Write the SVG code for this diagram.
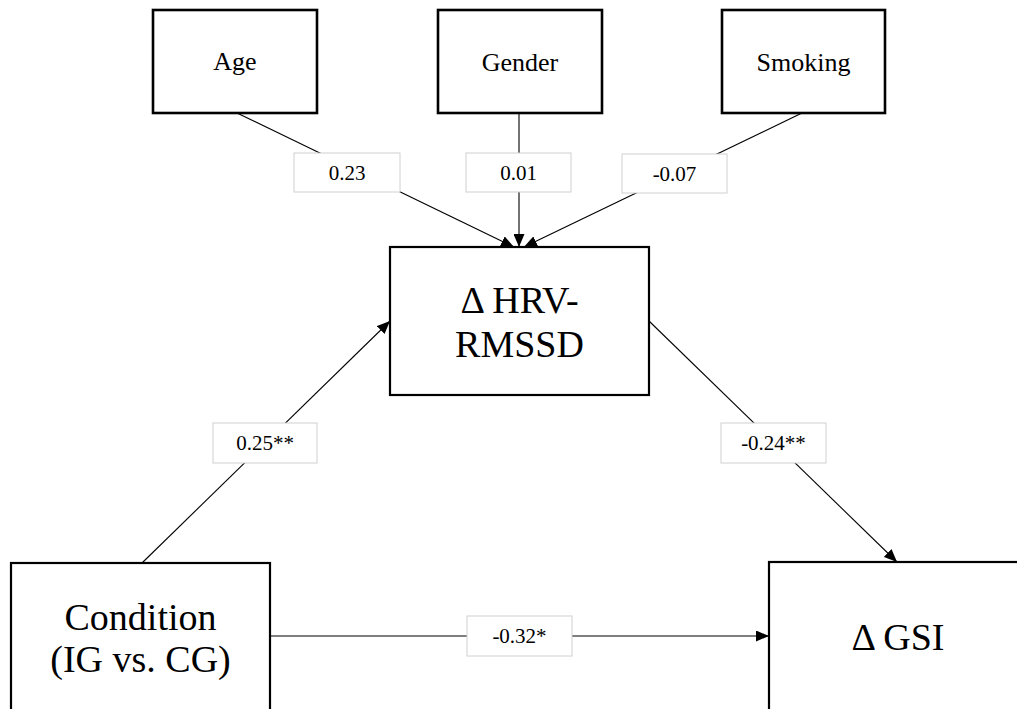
<svg xmlns="http://www.w3.org/2000/svg" width="1017" height="709" viewBox="0 0 1017 709">
  <style>
    .box { fill: #ffffff; stroke: #000000; }
    .small { stroke-width: 2.6; }
    .big { stroke-width: 2.2; }
    .lbl { fill: #ffffff; stroke: #d0d0d0; stroke-width: 1; }
    .edge { stroke: #000000; stroke-width: 1.1; fill: none; }
    text { fill: #000000; text-anchor: middle; }
    .t1 { font-size: 26px; }
    .t2 { font-size: 21px; }
    .t3 { font-size: 38px; }
  </style>
  <defs>
    <marker id="arrow" markerUnits="userSpaceOnUse" markerWidth="13" markerHeight="11" viewBox="0 0 13 11" refX="13" refY="5.5" orient="auto">
      <path d="M0,0 L13,5.5 L0,11 z" fill="#000000"/>
    </marker>
  </defs>

  <rect width="1017" height="709" fill="#ffffff"/>

  <!-- connectors -->
  <g id="connectors">
    <line class="edge" x1="237" y1="113" x2="514" y2="247" marker-end="url(#arrow)"/>
    <line class="edge" x1="519" y1="113" x2="519" y2="247" marker-end="url(#arrow)"/>
    <line class="edge" x1="802" y1="113" x2="524" y2="247" marker-end="url(#arrow)"/>
    <line class="edge" x1="142" y1="563" x2="390" y2="321" marker-end="url(#arrow)"/>
    <line class="edge" x1="649" y1="321" x2="897" y2="562" marker-end="url(#arrow)"/>
    <line class="edge" x1="270" y1="636" x2="769" y2="636" marker-end="url(#arrow)"/>
  </g>

  <g font-family="'Liberation Serif', Tinos, 'DejaVu Serif', serif">
    <!-- coefficient labels -->
    <g id="labels">
      <g id="lbl-age">
        <rect class="lbl" x="294" y="153" width="106" height="39"/>
        <text class="t2" x="347" y="180">0.23</text>
      </g>
      <g id="lbl-gender">
        <rect class="lbl" x="466" y="153" width="105" height="39"/>
        <text class="t2" x="518.5" y="180">0.01</text>
      </g>
      <g id="lbl-smoking">
        <rect class="lbl" x="622" y="154" width="105" height="39"/>
        <text class="t2" x="674.5" y="181">-0.07</text>
      </g>
      <g id="lbl-a">
        <rect class="lbl" x="213" y="423" width="104" height="40"/>
        <text class="t2" x="265" y="450">0.25**</text>
      </g>
      <g id="lbl-b">
        <rect class="lbl" x="721" y="423" width="105" height="40"/>
        <text class="t2" x="773.5" y="450">-0.24**</text>
      </g>
      <g id="lbl-c">
        <rect class="lbl" x="467" y="616" width="105" height="40"/>
        <text class="t2" x="519.5" y="643">-0.32*</text>
      </g>
    </g>

    <!-- covariates -->
    <g id="age">
      <rect class="box small" x="153" y="10" width="164" height="103"/>
      <text class="t1" x="235" y="70">Age</text>
    </g>
    <g id="gender">
      <rect class="box small" x="438" y="10" width="164" height="103"/>
      <text class="t1" x="520" y="71">Gender</text>
    </g>
    <g id="smoking">
      <rect class="box small" x="722" y="10" width="163" height="103"/>
      <text class="t1" x="803.5" y="71">Smoking</text>
    </g>

    <!-- mediator -->
    <g id="hrv">
      <rect class="box big" x="390" y="247" width="259" height="148"/>
      <text class="t3" x="519.5" y="313">Δ HRV-</text>
      <text class="t3" x="519.5" y="357">RMSSD</text>
    </g>

    <!-- predictor -->
    <g id="condition">
      <rect class="box big" x="11" y="563" width="259" height="160"/>
      <text class="t3" x="140.5" y="630">Condition</text>
      <text class="t3" x="140.5" y="672">(IG vs. CG)</text>
    </g>

    <!-- outcome -->
    <g id="gsi">
      <rect class="box big" x="769" y="562" width="259" height="160"/>
      <text class="t3" x="898" y="650">Δ GSI</text>
    </g>
  </g>
</svg>
